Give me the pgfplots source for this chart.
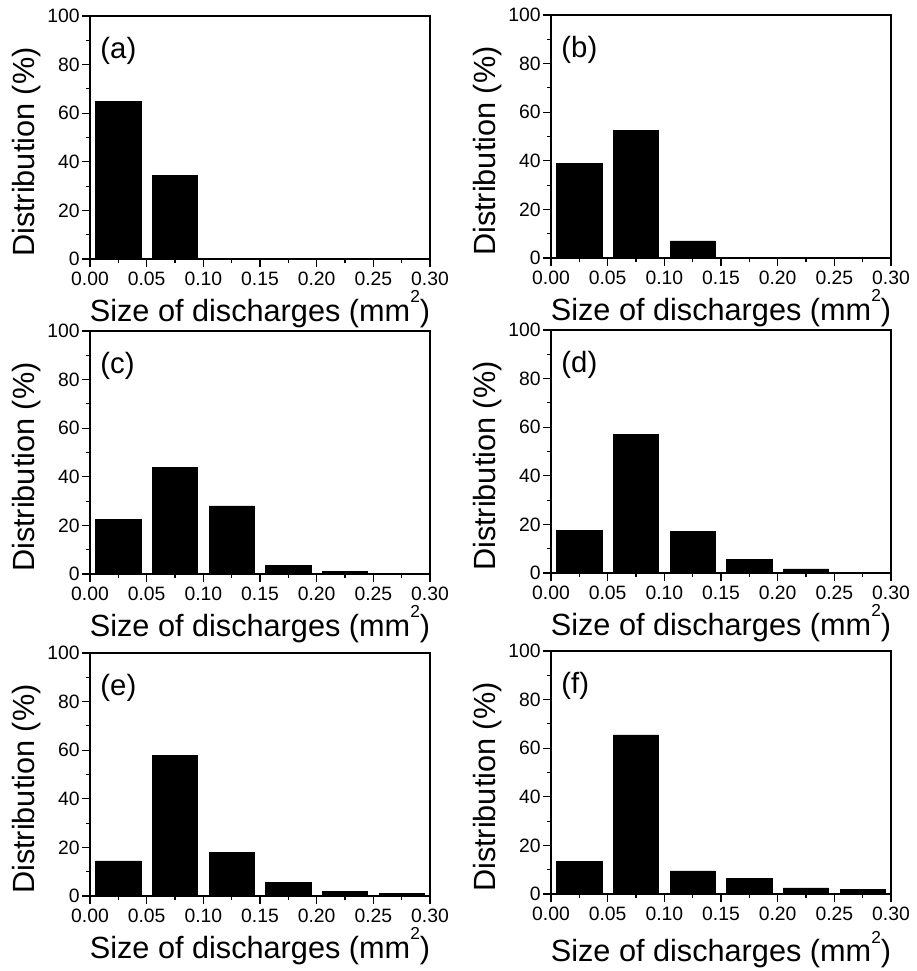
\documentclass[border=0pt]{standalone}
\usepackage{fontspec}
\setmainfont{Liberation Sans}
\usepackage{pgfplots}
\pgfplotsset{compat=1.18}

\pgfplotsset{
  panel/.style={
    scale only axis, width=255pt, height=182.25pt,
    anchor=south west,
    xmin=0, xmax=0.3, ymin=0, ymax=100,
    xtick={0,0.05,0.1,0.15,0.2,0.25,0.3},
    ytick={0,20,40,60,80,100},
    minor x tick num=1, minor y tick num=1,
    xtick pos=left, ytick pos=left, tick align=outside,
    major tick length=6pt, minor tick length=3pt,
    axis line style={line width=0.9pt}, every tick/.style={black, line width=0.8pt},
    xticklabel style={/pgf/number format/.cd, fixed, fixed zerofill, precision=2},
    yticklabel style={inner xsep=1.5pt},
    /pgf/number format/assume math mode=true,
    ticklabel style={font=\fontsize{14.5}{14.5}\selectfont},
    label style={font=\fontsize{23}{23}\selectfont},
    xlabel={Size of discharges (mm\raisebox{0.6em}{\fontsize{13}{13}\selectfont 2})},
    ylabel={Distribution (\%)},
    xlabel style={yshift=3pt},
    ylabel style={at={(ticklabel cs:0.44)}},
    ybar, bar width=0.04,
  },
  bars/.style={fill=black, draw=black, line width=0.4pt},
}

\newcommand{\tag}[1]{\node[anchor=north west, inner sep=0pt, font=\fontsize{22}{22}\selectfont] at (rel axis cs:0.03,0.915) {#1};}

\begin{document}
\begin{tikzpicture}
\useasboundingbox (0pt,0pt) rectangle (687.75pt,-728.25pt);

% (a)
\begin{axis}[panel, at={(67.5pt,-194.25pt)}]
\addplot[bars] coordinates {(0.025,65) (0.075,34.5)};
\tag{(a)}
\end{axis}

% (b)
\begin{axis}[panel, at={(413.25pt,-193.5pt)}]
\addplot[bars] coordinates {(0.025,39) (0.075,52.5) (0.125,7) (0.175,0.3)};
\tag{(b)}
\end{axis}

% (c)
\begin{axis}[panel, at={(67.5pt,-430.5pt)}]
\addplot[bars] coordinates {(0.025,22.5) (0.075,44) (0.125,28) (0.175,3.5) (0.225,1) (0.275,0.3)};
\tag{(c)}
\end{axis}

% (d)
\begin{axis}[panel, at={(413.25pt,-429.75pt)}]
\addplot[bars] coordinates {(0.025,17.5) (0.075,57) (0.125,17) (0.175,5.5) (0.225,1.7)};
\tag{(d)}
\end{axis}

% (e)
\begin{axis}[panel, at={(67.5pt,-672pt)}]
\addplot[bars] coordinates {(0.025,14.5) (0.075,58) (0.125,18) (0.175,5.5) (0.225,2) (0.275,1)};
\tag{(e)}
\end{axis}

% (f)
\begin{axis}[panel, at={(413.25pt,-670.5pt)}, xlabel style={yshift=-4pt}]
\addplot[bars] coordinates {(0.025,13.5) (0.075,65.5) (0.125,9.5) (0.175,6.5) (0.225,2.5) (0.275,2)};
\tag{(f)}
\end{axis}
\end{tikzpicture}
\end{document}
